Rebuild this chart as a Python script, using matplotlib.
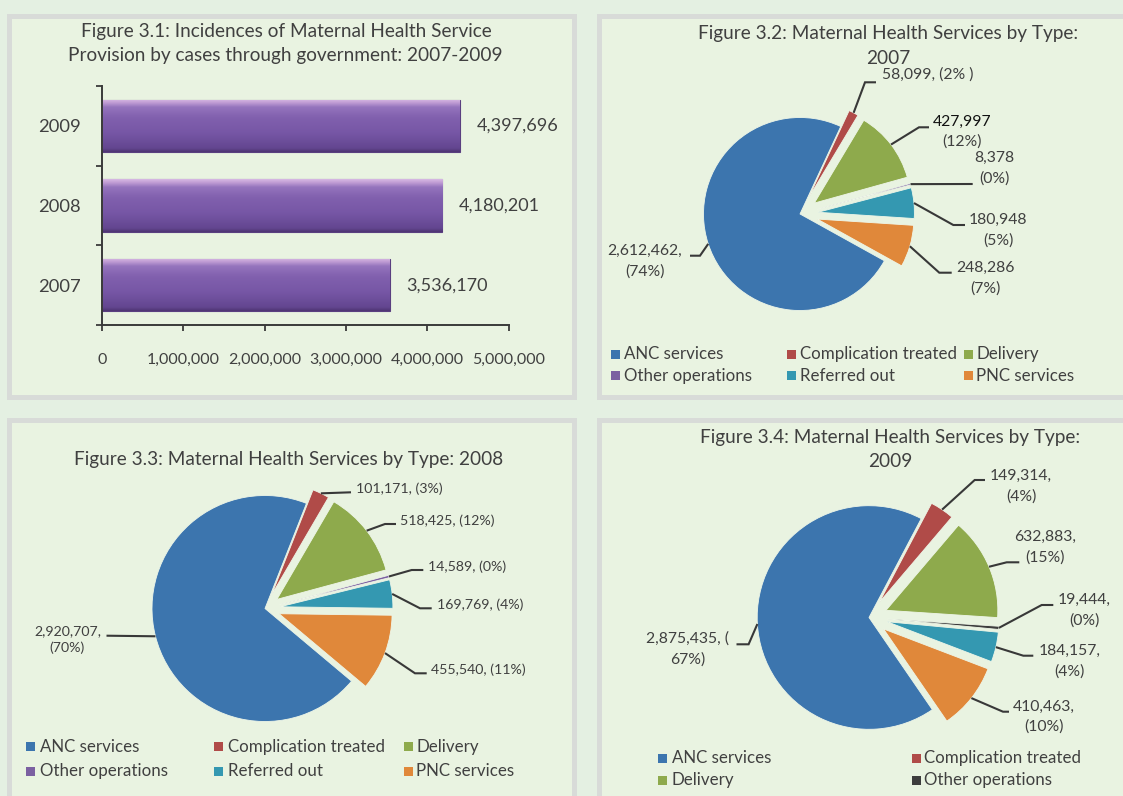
import numpy as np
import matplotlib
matplotlib.use('Agg')
import matplotlib.pyplot as plt
from matplotlib.patches import Rectangle
from matplotlib.colors import LinearSegmentedColormap

# ---------------- data ----------------
years = ['2007', '2008', '2009']
total_cases = [3536170, 4180201, 4397696]
total_labels = ['3,536,170', '4,180,201', '4,397,696']
x_ticks = [0, 1000000, 2000000, 3000000, 4000000, 5000000]
x_tick_labels = ['0', '1,000,000', '2,000,000', '3,000,000', '4,000,000', '5,000,000']

service_types = ['ANC services', 'Complication treated', 'Delivery',
                 'Other operations', 'Referred out', 'PNC services']
cases_2007 = [2612462, 58099, 427997, 8378, 180948, 248286]
cases_2008 = [2920707, 101171, 518425, 14589, 169769, 455540]
cases_2009 = [2875435, 149314, 632883, 19444, 184157, 410463]
labels_2007 = ['2,612,462,\n(74%)', '58,099, (2% )', '427,997\n(12%)',
               '8,378\n(0%)', '180,948\n(5%)', '248,286\n(7%)']
labels_2008 = ['2,920,707,\n(70%)', '101,171, (3%)', '518,425, (12%)',
               '14,589, (0%)', '169,769, (4%)', '455,540, (11%)']
labels_2009 = ['2,875,435, (\n67%)', '149,314,\n(4%)', '632,883,\n(15%)',
               '19,444,\n(0%)', '184,157,\n(4%)', '410,463,\n(10%)']

# ---------------- style ----------------
W, H = 1123, 796
FONT = ['Lato', 'DejaVu Sans']
plt.rcParams['font.family'] = FONT
TXT = '#404040'
OUTER_BG = '#e4f0e2'
BORDER = '#d8dbd8'
INNER_BG = '#e9f3e1'
COLORS = ['#3c75ae', '#b04b48', '#8eaa4c', '#7b60a1', '#3498b1', '#e0883a']
COLORS_2009 = ['#3c75ae', '#b04b48', '#8eaa4c', '#3d3d3d', '#3498b1', '#e0883a']
LEADER = '#383838'
TITLE_FS = 13.7

fig = plt.figure(figsize=(W / 100, H / 100), dpi=100)
fig.patch.set_facecolor(OUTER_BG)

# overlay axes in pixel coordinates (y measured upwards)
ov = fig.add_axes([0, 0, 1, 1])
ov.set_xlim(0, W)
ov.set_ylim(0, H)
ov.axis('off')


def fy(y):
    return H - y


def panel(x0, y0, x1, y1, bw=5):
    ov.add_patch(Rectangle((x0, fy(y1)), x1 - x0, y1 - y0, facecolor=BORDER,
                           edgecolor='none', zorder=0))
    ov.add_patch(Rectangle((x0 + bw, fy(y1 - bw)), x1 - x0 - 2 * bw, y1 - y0 - 2 * bw,
                           facecolor=INNER_BG, edgecolor='none', zorder=0.1))


panel(7, 14, 577, 400)
panel(597, 14, 1140, 400)
panel(7, 418, 577, 815)
panel(597, 418, 1140, 815)


def ptext(x, y, s, size, ha='center', color=TXT, **kw):
    ov.text(x, fy(y), s, ha=ha, va='center', fontsize=size, color=color, zorder=5, **kw)


# ---------------- Figure 3.1 (bar chart) ----------------
ptext(286, 32, 'Figure 3.1: Incidences of Maternal Health Service', TITLE_FS)
ptext(285, 56, 'Provision by cases through government: 2007-2009', TITLE_FS)

x_left, x_right, y_top, y_bot = 101.7, 508.7, 86, 325
bax = fig.add_axes([x_left / W, (H - y_bot) / H, (x_right - x_left) / W, (y_bot - y_top) / H])
bax.patch.set_alpha(0)
ypos = np.arange(len(years))
bars = bax.barh(ypos, total_cases, height=0.66, color='#7a58a7',
                edgecolor='#5a3f80', linewidth=0.8, zorder=2)
grad_cmap = LinearSegmentedColormap.from_list('bargrad', [
    (0.0, '#4f3573'), (0.07, '#634690'), (0.35, '#7656a5'), (0.65, '#8160ae'),
    (0.85, '#9574bd'), (0.94, '#c29ed5'), (1.0, '#d7b8e3')])
grad = np.linspace(0, 1, 200).reshape(-1, 1)
for b in bars:
    x0, y0, w, h = b.get_x(), b.get_y(), b.get_width(), b.get_height()
    im = bax.imshow(grad, extent=[x0, x0 + w, y0, y0 + h], origin='lower',
                    aspect='auto', cmap=grad_cmap, zorder=2.5, interpolation='bilinear')
    im.set_clip_path(b)
for b, lab in zip(bars, total_labels):
    bax.annotate(lab, xy=(b.get_width(), b.get_y() + b.get_height() / 2),
                 xytext=(17, 0), textcoords='offset pixels', ha='left', va='center',
                 fontsize=13, color=TXT)
bax.set_xlim(0, 5000000)
bax.set_ylim(-0.5, len(years) - 0.5)
bax.set_xticks(x_ticks)
bax.set_xticklabels(x_tick_labels)
bax.set_yticks(ypos)
bax.set_yticklabels(years)
bax.set_yticks(np.arange(-0.5, len(years), 1.0), minor=True)
for s in ['top', 'right']:
    bax.spines[s].set_visible(False)
for s in ['left', 'bottom']:
    bax.spines[s].set_color('#3a3a3a')
    bax.spines[s].set_linewidth(1.4)
bax.tick_params(axis='y', which='major', length=0, pad=15, labelsize=13.2, labelcolor=TXT)
bax.tick_params(axis='y', which='minor', length=4, width=1.3, color='#3a3a3a', direction='out')
bax.tick_params(axis='x', which='major', length=4, width=1.3, color='#3a3a3a',
                direction='out', pad=16, labelsize=11.5, labelcolor=TXT)


# ---------------- pie helper ----------------
def draw_pie(values, labels, colors, cx, cy, r, start, expl, layout, fs, gap,
             first_colors=None):
    wedges, _ = ov.pie(values, colors=colors, startangle=start, counterclock=False,
                       radius=r, center=(cx, fy(cy)), explode=[0] + [expl] * (len(values) - 1),
                       wedgeprops=dict(linewidth=0.6, edgecolor='#eef6e8'))
    for wd in wedges:
        wd.set_zorder(2)
    for i, (wd, lab, lay) in enumerate(zip(wedges, labels, layout)):
        tx, ty, ha, ex, ey, hx = lay
        mid = np.deg2rad((wd.theta1 + wd.theta2) / 2)
        px = wd.center[0] + wd.r * np.cos(mid)
        py = wd.center[1] + wd.r * np.sin(mid)
        ov.plot([px, ex, hx], [py, fy(ey), fy(ey)], color=LEADER, lw=1.5,
                solid_capstyle='butt', solid_joinstyle='miter', zorder=3)
        lines = lab.split('\n')
        n = len(lines)
        for k, line in enumerate(lines):
            col = TXT
            if first_colors is not None and k == 0 and first_colors[i]:
                col = first_colors[i]
            ptext(tx, ty + (k - (n - 1) / 2) * gap, line, fs, ha=ha, color=col)


def legend(entries, fs):
    for lab, col, sx, y, tx in entries:
        ov.add_patch(Rectangle((sx - 4.5, fy(y) - 4.5), 9, 9, facecolor=col,
                               edgecolor='none', zorder=4))
        ptext(tx, y, lab, fs, ha='left')


# ---------------- Figure 3.2 (2007) ----------------
ptext(888, 34, 'Figure 3.2: Maternal Health Services by Type:', TITLE_FS)
ptext(888, 58, '2007', TITLE_FS)
layout_2007 = [
    (645, 261.5, 'center', 700, 255.7, 690),
    (882, 75, 'left', 865, 82.3, 876),
    (962, 131.7, 'center', 919, 127.3, 929),
    (994, 168.3, 'center', 972.7, 184, 972.7),
    (998, 230.2, 'center', 953.3, 225, 965),
    (985, 278.3, 'center', 939.3, 272.7, 951.7),
]
draw_pie(cases_2007, labels_2007, COLORS, 800, 214, 96.5, -29, 18, layout_2007, 11.3, 20.3,
         first_colors=[None, None, '#111111', None, None, None])
legend([(service_types[0], COLORS[0], 615.7, 354, 624),
        (service_types[1], COLORS[1], 791, 354, 800),
        (service_types[2], COLORS[2], 968.5, 354, 976.5),
        (service_types[3], COLORS[3], 615.7, 375.7, 624),
        (service_types[4], COLORS[4], 791, 375.7, 800),
        (service_types[5], COLORS[5], 968.5, 375.7, 976.5)], 12.2)

# ---------------- Figure 3.3 (2008) ----------------
ptext(289, 459, 'Figure 3.3: Maternal Health Services by Type: 2008', TITLE_FS)
layout_2008 = [
    (67.5, 639.5, 'center', 106.5, 635.7, 106.5),
    (356, 488.3, 'left', 351, 492.3, 351),
    (400, 520.7, 'left', 385, 524, 396),
    (427.7, 566.7, 'left', 411.7, 570, 423.3),
    (437.3, 605, 'left', 420, 608.3, 431.7),
    (431, 669.3, 'left', 415, 673.3, 426.7),
]
draw_pie(cases_2008, labels_2008, COLORS, 265, 608.5, 113, -40, 15, layout_2008, 10.2, 17)
legend([(service_types[0], COLORS[0], 30, 746.7, 39.6),
        (service_types[1], COLORS[1], 218, 746.7, 227.5),
        (service_types[2], COLORS[2], 408, 746.7, 416.5),
        (service_types[3], COLORS[3], 30, 771, 39.6),
        (service_types[4], COLORS[4], 218, 771, 227.5),
        (service_types[5], COLORS[5], 408, 771, 416.5)], 12.2)

# ---------------- Figure 3.4 (2009) ----------------
ptext(890, 437.3, 'Figure 3.4: Maternal Health Services by Type:', TITLE_FS)
ptext(890, 461.7, '2009', TITLE_FS)
layout_2009 = [
    (688, 649, 'center', 748.6, 644.3, 736.5),
    (1021, 486.2, 'center', 974.7, 480, 985),
    (1045, 547.5, 'center', 1006.7, 562.3, 1019.3),
    (1084, 610.5, 'center', 1041.7, 605, 1053.3),
    (1069.5, 661.2, 'center', 1023.3, 655.7, 1033.3),
    (1044, 716.7, 'center', 1003, 711.7, 1009),
]
draw_pie(cases_2009, labels_2009, COLORS_2009, 869, 617.5, 111.8, -55.5, 18.5, layout_2009,
         11.3, 20.5)
legend([(service_types[0], COLORS_2009[0], 662, 758.3, 671.8),
        (service_types[1], COLORS_2009[1], 916, 758.3, 924.5),
        (service_types[2], COLORS_2009[2], 662, 780, 671.8),
        (service_types[3], COLORS_2009[3], 916, 780, 924.5)], 12.2)

ov.set_xlim(0, W)
ov.set_ylim(0, H)
ov.set_aspect('auto')

fig.savefig('out.png', dpi=100, facecolor=fig.get_facecolor())
